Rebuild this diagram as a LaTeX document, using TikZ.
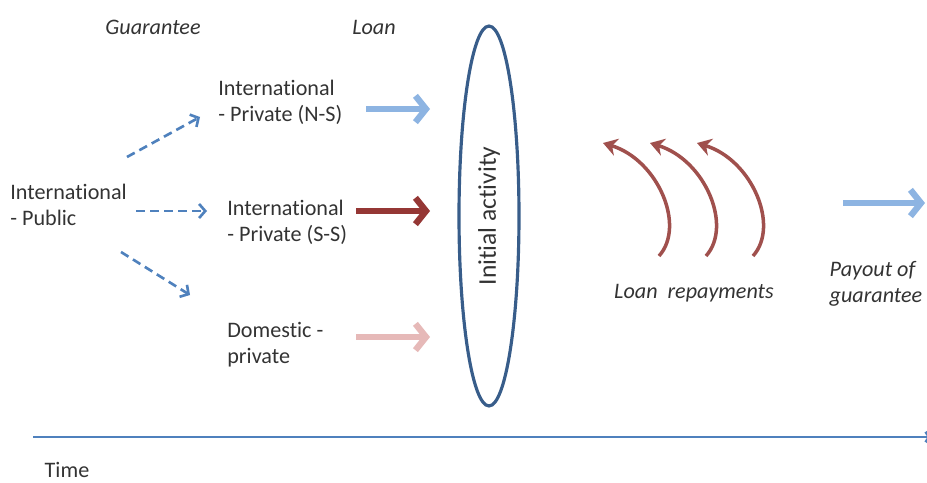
\documentclass[tikz,border=0pt]{standalone}
\usepackage{fontspec}
\setmainfont{Carlito}[Ligatures=NoCommon]
\usetikzlibrary{arrows.meta,shapes.geometric}
\definecolor{guarblue}{HTML}{4F81BD}
\definecolor{nsblue}{HTML}{8DB4E2}
\definecolor{ssred}{HTML}{953735}
\definecolor{dompink}{HTML}{E6B9B8}
\definecolor{repayred}{HTML}{A0504D}
\definecolor{actblue}{HTML}{385D8A}
\begin{document}
\begin{tikzpicture}[x=0.02cm, y=-0.02cm,
    txt/.style={inner sep=0pt, align=left, text=black!80, font=\fontsize{12.6}{14.7}\selectfont},
    itxt/.style={txt, font=\fontsize{12.6}{14.7}\selectfont\itshape},
    guar/.style={draw=guarblue, line width=1.5pt, dash pattern=on 5pt off 3pt, -{Straight Barb[length=3.5pt,width=8pt]}},
    loan/.style={line width=3.6pt, -{Straight Barb[length=6pt,width=15pt]}},
    repay/.style={draw=repayred, line width=2pt, -{Stealth[length=8pt,width=10pt]}}]

    \useasboundingbox (0,0) rectangle (927,483);

    % headings
    \node[itxt] (hguar) at (153,27) {Guarantee};
    \node[itxt] (hloan) at (374,27) {Loan};

    % who gives the guarantee / loan
    \node[txt, anchor=west] (pub) at (10,205) {International\\- Public};
    \node[txt, anchor=west] (ns) at (218,102) {International\\- Private (N-S)};
    \node[txt, anchor=west] (ss) at (227,222) {International\\- Private (S-S)};
    \node[txt, anchor=west] (dom) at (227,345) {Domestic -\\private};

    % the activity
    \node[draw=actblue, line width=1.8pt, ellipse, rotate=90, inner sep=0pt,
          minimum width=7.6cm, minimum height=1.2cm, txt,
          font=\fontsize{14.5}{16}\selectfont] (act) at (489,216) {Initial activity};

    % guarantees
    \draw[guar] (127,157) coordinate (g1) -- ([shift={(-18,15)}]ns.west);
    \draw[guar] (136,211) coordinate (g2) -- ([shift={(-20,-11)}]ss.west);
    \draw[guar] (121,252) coordinate (g3) -- ([shift={(-37,-50)}]dom.west);

    % loans
    \coordinate (lns) at (430,109);
    \coordinate (lss) at (430,211);
    \coordinate (ldom) at (430,337);
    \draw[loan, nsblue] (lns -| 366,0) -- (lns);
    \draw[loan, ssred] (lss -| 356,0) -- (lss);
    \draw[loan, dompink] (ldom -| 356,0) -- (ldom);

    % repayments
    \foreach \i in {0,1,2} {
        \coordinate (rs\i) at (659+47*\i,256);
        \coordinate (re\i) at (603+47*\i,143);
        \draw[repay] (rs\i) .. controls (686+47*\i,226) and (658+47*\i,160) .. (re\i);
    }
    \node[itxt] (rep) at (694,293) {Loan~ repayments};

    % payout
    \coordinate (po) at (925,203);
    \draw[loan, nsblue] (po -| 843,0) -- (po);
    \node[itxt] (pay) at (876,284) {Payout of\\guarantee};

    % time axis
    \coordinate (t0) at (33,437);
    \coordinate (t1) at (931,437);
    \draw[guarblue, line width=1.7pt, -{Straight Barb[length=2pt,width=6pt]}] (t0) -- (t1);
    \node[txt] (time) at (67,470) {Time};
\end{tikzpicture}
\end{document}
